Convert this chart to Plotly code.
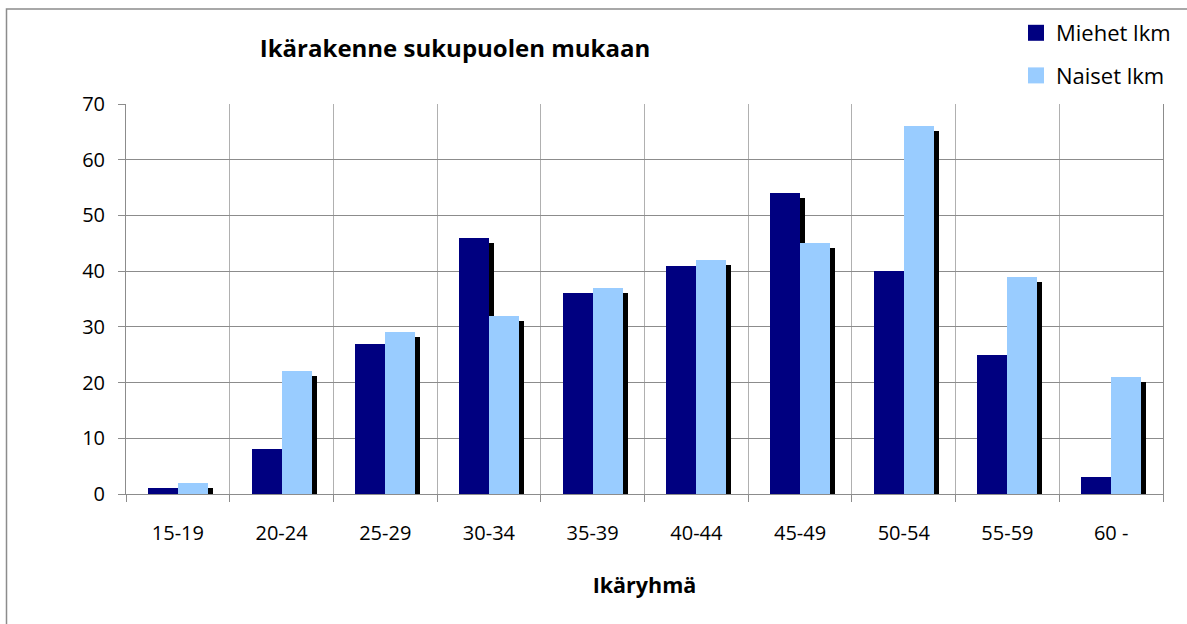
import plotly.graph_objects as go

categories = ["15-19", "20-24", "25-29", "30-34", "35-39", "40-44", "45-49", "50-54", "55-59", "60 -"]
miehet = [1, 8, 27, 46, 36, 41, 54, 40, 25, 3]
naiset = [2, 22, 29, 32, 37, 42, 45, 66, 39, 21]
y_ticks = [0, 10, 20, 30, 40, 50, 60, 70]

W, H = 1187, 624
L, R, T, B = 126, 24, 104, 130
plot_w = W - L - R
plot_h = H - T - B
ymax = 70
cat_px = plot_w / len(categories)
bar_w = 30 / cat_px          # bar width in category units
sh_dx = 5 / cat_px           # shadow x offset
sh_dy = 5 * ymax / plot_h    # shadow y offset in value units

FONT = "Open Sans"
NAVY = "#000080"
LIGHT = "#99CCFF"

fig = go.Figure()
# shadows
for vals, off in ((miehet, -bar_w), (naiset, 0)):
    fig.add_trace(go.Bar(x=categories, y=vals, base=-sh_dy, width=bar_w, offset=off + sh_dx,
                         marker=dict(color="black", line=dict(width=0)),
                         showlegend=False, hoverinfo="skip"))
fig.add_trace(go.Bar(x=categories, y=miehet, width=bar_w, offset=-bar_w, name="Miehet lkm",
                     marker=dict(color=NAVY, line=dict(width=0)), showlegend=False))
fig.add_trace(go.Bar(x=categories, y=naiset, width=bar_w, offset=0, name="Naiset lkm",
                     marker=dict(color=LIGHT, line=dict(width=0)), showlegend=False))
# legend entries
for name, col in (("Miehet lkm", NAVY), ("Naiset lkm", LIGHT)):
    fig.add_trace(go.Scatter(x=[None], y=[None], mode="markers", name=name, legendgroup=name,
                             marker=dict(symbol="square", size=16, color=col)))

fig.update_layout(
    width=W, height=H,
    margin=dict(l=L, r=R, t=T, b=B, pad=0, autoexpand=False),
    barmode="overlay",
    paper_bgcolor="white", plot_bgcolor="white",
    font=dict(family=FONT, color="black", size=20),
    title=dict(text="<b>Ikärakenne sukupuolen mukaan</b>", x=455 / W, xanchor="center",
               xref="container", y=1 - 49 / H, yanchor="middle", yref="container",
               font=dict(family=FONT, size=24, color="black")),
    legend=dict(x=(1016 - L) / plot_w, y=(H - B - 12) / plot_h, xanchor="left", yanchor="top",
                font=dict(size=22), bgcolor="rgba(0,0,0,0)", itemsizing="trace",
                tracegroupgap=11, traceorder="grouped"),
    showlegend=True,
    bargap=0,
)
fig.update_xaxes(
    type="category", range=[-0.5, len(categories) - 0.5],
    tickson="boundaries", ticks="outside", ticklen=7, tickcolor="#8c8c8c",
    showgrid=True, gridcolor="#b0b0b0", gridwidth=1,
    showline=True, linecolor="#8c8c8c", linewidth=1,
    ticklabelstandoff=21,
    title=dict(text="<b>Ikäryhmä</b>", font=dict(size=21.5), standoff=32),
)
fig.update_yaxes(
    range=[0, ymax], tickvals=y_ticks, ticks="outside", ticklen=7, tickcolor="#8c8c8c",
    showgrid=True, gridcolor="#8c8c8c", gridwidth=1,
    showline=True, linecolor="#8c8c8c", linewidth=1, zeroline=False, mirror=True,
    ticklabelstandoff=9,
)
# chart area border
fig.add_shape(type="rect", xref="paper", yref="paper",
              x0=(6.5 - L) / plot_w, x1=(W + 20 - L) / plot_w,
              y0=-(H + 20 - T - plot_h) / plot_h, y1=(H - B - 9) / plot_h,
              line=dict(color="#8c8c8c", width=1.5), fillcolor="rgba(0,0,0,0)", layer="below")

fig.write_html("out.html", config={"displayModeBar": False},
               post_script="document.body.style.margin='0px';")
